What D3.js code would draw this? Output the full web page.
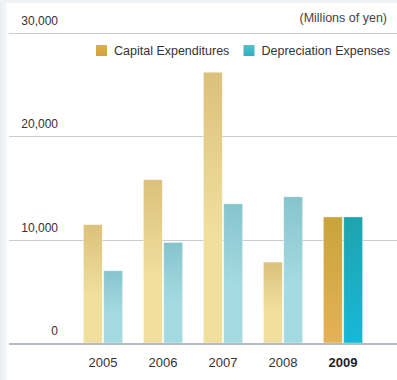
<!DOCTYPE html>
<html>
<head>
<meta charset="utf-8">
<script src="https://cdn.jsdelivr.net/npm/d3@7"></script>
<style>
  html, body { margin: 0; padding: 0; background: #fff; }
  svg { display: block; font-family: "Liberation Sans", Arial, sans-serif; }
</style>
</head>
<body>
<svg id="chart" width="397" height="380"></svg>
<script>
// Fiscal years shown on the category axis
const years = ["2005", "2006", "2007", "2008", "2009"];
// Millions of yen
const capitalExpenditures = [11450, 15800, 26200, 7830, 12200];
const depreciationExpenses = [6990, 9730, 13470, 14150, 12200];
const seriesNames = ["Capital Expenditures", "Depreciation Expenses"];
const yTicks = [0, 10000, 20000, 30000];
const unitLabel = "(Millions of yen)";
const highlightYear = "2009";

const W = 397, H = 380;
const svg = d3.select("#chart");
const defs = svg.append("defs");

// Panel background: soft grey edges on the left and top
const edgeL = defs.append("linearGradient").attr("id", "edgeL").attr("x1", 0).attr("x2", 1).attr("y1", 0).attr("y2", 0);
edgeL.append("stop").attr("offset", 0).attr("stop-color", "#e9eef1");
edgeL.append("stop").attr("offset", 1).attr("stop-color", "#f7f9fa");
svg.append("rect").attr("x", 0).attr("y", 0).attr("width", W).attr("height", H).attr("fill", "#fff");
svg.append("rect").attr("x", 0).attr("y", 0).attr("width", 7).attr("height", H).attr("fill", "url(#edgeL)");
svg.append("rect").attr("x", 0).attr("y", 0).attr("width", W).attr("height", 3).attr("fill", "#eef2f4");

// Vertical gradients for each series, muted for past years, strong for the highlight year
function vGrad(id, top, mid, stopAt) {
  const g = defs.append("linearGradient").attr("id", id).attr("x1", 0).attr("x2", 0).attr("y1", 0).attr("y2", 1);
  g.append("stop").attr("offset", 0).attr("stop-color", top);
  g.append("stop").attr("offset", stopAt).attr("stop-color", mid);
  g.append("stop").attr("offset", 1).attr("stop-color", mid);
}
vGrad("capLight", "#dbc17b", "#f1df9e", 0.6);
vGrad("depLight", "#86c4cc", "#a6dae2", 0.6);
vGrad("capStrong", "#c8a43c", "#e4b257", 1);
vGrad("depStrong", "#1fa3ae", "#17b8d8", 1);
vGrad("capKey", "#d9b04c", "#cfa23c", 1);
vGrad("depKey", "#56c0cc", "#2fb0c2", 1);

const y = d3.scaleLinear().domain([0, 30000]).range([343, 33]);
const x0 = d3.scaleBand().domain(years).range([73, 373]).paddingInner(0);
const x1 = d3.scaleBand().domain(seriesNames).range([-19.6, 19.6]).paddingInner(0.07);

// Horizontal grid lines with labels sitting above them
const grid = svg.append("g");
grid.selectAll("line").data(yTicks.filter(d => d > 0)).join("line")
  .attr("x1", 9).attr("x2", W)
  .attr("y1", d => Math.round(y(d)) + 0.5).attr("y2", d => Math.round(y(d)) + 0.5)
  .attr("stroke", "#c6ced3").attr("stroke-width", 1.2);
grid.selectAll("text").data(yTicks).join("text")
  .attr("x", 58).attr("y", d => y(d) - 8)
  .attr("text-anchor", "end").attr("font-size", 12).attr("fill", "#333")
  .text(d => d3.format(",")(d));

// Bars
const rows = years.map((yr, i) => ({ year: yr, values: [capitalExpenditures[i], depreciationExpenses[i]] }));
const groups = svg.append("g").selectAll("g").data(rows).join("g")
  .attr("transform", d => `translate(${x0(d.year) + x0.bandwidth() / 2},0)`);
groups.selectAll("rect").data(d => d.values.map((v, k) => ({ v, k, year: d.year }))).join("rect")
  .attr("x", d => x1(seriesNames[d.k]))
  .attr("width", x1.bandwidth())
  .attr("y", d => y(d.v))
  .attr("height", d => y(0) - y(d.v))
  .attr("fill", d => {
    const strong = d.year === highlightYear;
    if (d.k === 0) return strong ? "url(#capStrong)" : "url(#capLight)";
    return strong ? "url(#depStrong)" : "url(#depLight)";
  })
  .attr("stroke", "rgba(255,255,255,0.45)").attr("stroke-width", 0.8);

// Baseline
svg.append("line").attr("x1", 9).attr("x2", W).attr("y1", y(0) + 1).attr("y2", y(0) + 1)
  .attr("stroke", "#b3bcc2").attr("stroke-width", 2);

// Category labels
svg.append("g").selectAll("text").data(years).join("text")
  .attr("x", d => x0(d) + x0.bandwidth() / 2).attr("y", 367)
  .attr("text-anchor", "middle").attr("font-size", 13)
  .attr("font-weight", d => d === highlightYear ? "bold" : "normal")
  .attr("fill", d => d === highlightYear ? "#222" : "#333")
  .text(d => d);

// Unit note
svg.append("text").attr("x", 387).attr("y", 22).attr("text-anchor", "end")
  .attr("font-size", 12.5).attr("fill", "#444").text(unitLabel);

// Legend
const legendItems = [
  { name: seriesNames[0], fill: "url(#capKey)", x: 96 },
  { name: seriesNames[1], fill: "url(#depKey)", x: 243.5 }
];
const lg = svg.append("g").selectAll("g").data(legendItems).join("g")
  .attr("transform", d => `translate(${d.x},45)`);
lg.append("rect").attr("width", 11).attr("height", 11).attr("fill", d => d.fill);
lg.append("text").attr("x", 18).attr("y", 10).attr("font-size", 12.5).attr("fill", "#333")
  .text(d => d.name);
</script>
</body>
</html>
